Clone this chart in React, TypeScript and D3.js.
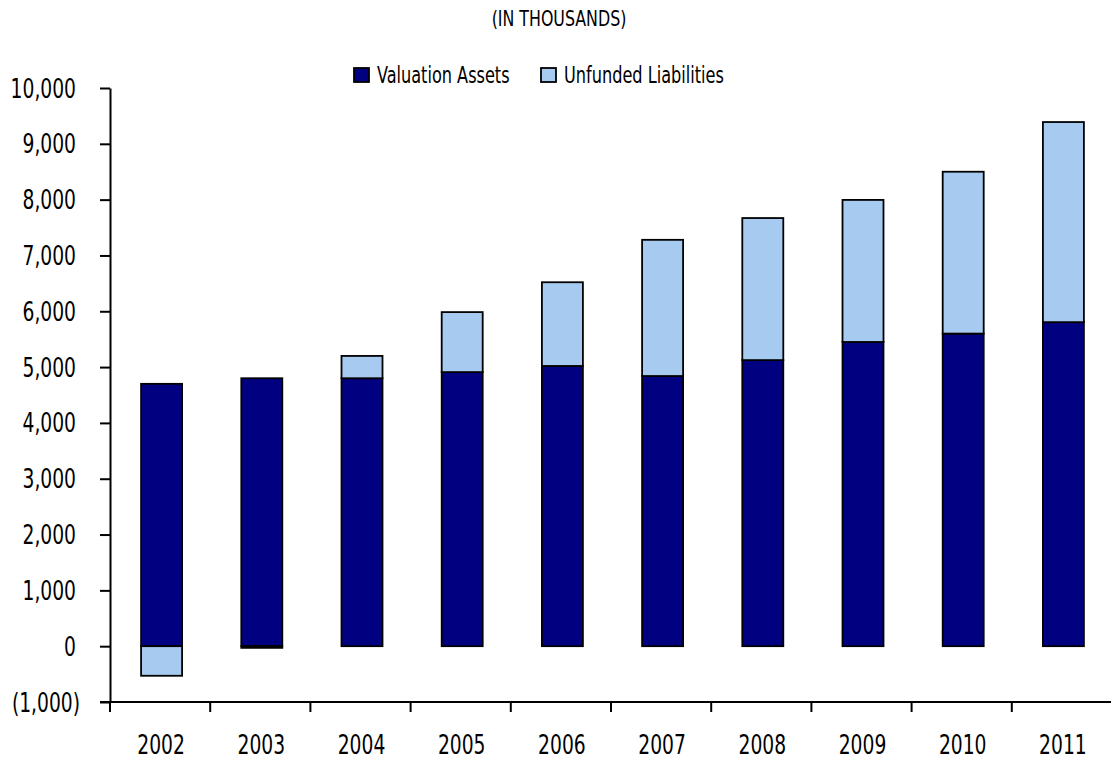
import React, { useEffect, useRef } from 'react';
import * as d3 from 'd3';

const years = ['2002', '2003', '2004', '2005', '2006', '2007', '2008', '2009', '2010', '2011'];
const valuationAssets = [4700, 4800, 4800, 4910, 5020, 4840, 5125, 5450, 5600, 5805];
const unfundedLiabilities = [-530, -30, 400, 1075, 1500, 2440, 2545, 2545, 2900, 3585];
const yTicks = [-1000, 0, 1000, 2000, 3000, 4000, 5000, 6000, 7000, 8000, 9000, 10000];
const seriesNames = ['Valuation Assets', 'Unfunded Liabilities'];
const seriesColors = ['#000080', '#A6CAF0'];

const FONT = '"DejaVu Sans Condensed", "DejaVu Sans", sans-serif';

// condensed-looking text: squeeze horizontally around the anchor point
function narrowText(g: any, x: number, y: number, txt: string, size: number, sx: number, anchor = 'start') {
  return g.append('text')
    .attr('transform', `translate(${x},${y}) scale(${sx},1)`)
    .attr('text-anchor', anchor)
    .attr('font-family', FONT)
    .attr('font-stretch', 'condensed')
    .attr('font-size', size)
    .attr('fill', '#000')
    .text(txt);
}

const App = () => {
  const svgRef = useRef<SVGSVGElement>(null);
  const width = 1111, height = 761;
  const margin = { top: 88, right: -1, bottom: 59, left: 110 };

  useEffect(() => {
    const svg = d3.select(svgRef.current);
    svg.selectAll('*').remove();

    const rows = years.map((y, i) => ({ year: y, assets: valuationAssets[i], unfunded: unfundedLiabilities[i] }));
    const stack = d3.stack<any>().keys(['assets', 'unfunded']).offset(d3.stackOffsetDiverging);
    const series = stack(rows);

    const x = d3.scaleBand().domain(years).range([margin.left, width - margin.right]).paddingInner(0).paddingOuter(0);
    const y = d3.scaleLinear().domain([-1000, 10000]).range([height - margin.bottom, margin.top]);
    const barW = 41;

    // title
    narrowText(svg, 559, 26, '(IN THOUSANDS)', 22, 0.8, 'middle');

    // bars
    svg.append('g').selectAll('g')
      .data(series)
      .join('g')
      .attr('fill', (d, i) => seriesColors[i])
      .selectAll('rect')
      .data(d => d)
      .join('rect')
      .attr('x', d => x(d.data.year)! + x.bandwidth() / 2 - barW / 2 + 1.5)
      .attr('width', barW)
      .attr('y', d => y(Math.max(d[0], d[1])))
      .attr('height', d => Math.abs(y(d[0]) - y(d[1])))
      .attr('stroke', '#000')
      .attr('stroke-width', 1.8);

    // y axis
    const yAxis = svg.append('g')
      .attr('transform', `translate(${margin.left},0)`)
      .call(d3.axisLeft(y).tickValues(yTicks).tickSize(10).tickSizeOuter(0).tickFormat(() => ''));
    yAxis.select('.domain').attr('stroke', '#000').attr('stroke-width', 2);
    yAxis.selectAll('.tick line').attr('stroke', '#000').attr('stroke-width', 2);
    const fmt = d3.format(',');
    yTicks.forEach(t => {
      narrowText(svg, t < 0 ? 80 : 76, y(t) + 9.5, t < 0 ? `(${fmt(-t)})` : fmt(t), 27, 0.77, 'end');
    });

    // x axis
    const xAxisY = y(-1000);
    const xg = svg.append('g');
    xg.append('line')
      .attr('x1', margin.left - 10).attr('x2', width)
      .attr('y1', xAxisY).attr('y2', xAxisY)
      .attr('stroke', '#000').attr('stroke-width', 2);
    xg.selectAll('line.tk')
      .data(years)
      .join('line')
      .attr('class', 'tk')
      .attr('x1', d => x(d)!).attr('x2', d => x(d)!)
      .attr('y1', xAxisY).attr('y2', xAxisY + 10)
      .attr('stroke', '#000').attr('stroke-width', 2);
    years.forEach(yr => {
      narrowText(xg, x(yr)! + x.bandwidth() / 2 + 1, 754, yr, 27, 0.77, 'middle');
    });

    // legend
    const legendX = [354, 541];
    const lg = svg.append('g');
    seriesNames.forEach((name, i) => {
      lg.append('rect')
        .attr('x', legendX[i]).attr('y', 68)
        .attr('width', 15).attr('height', 14)
        .attr('fill', seriesColors[i])
        .attr('stroke', '#000').attr('stroke-width', 1.8);
      narrowText(lg, legendX[i] + 23, 83, name, 23, 0.78);
    });
  }, []);

  return (
    <div style={{ position: 'absolute', left: 0, top: 0 }}>
      <svg ref={svgRef} width={width} height={height} style={{ display: 'block', background: '#fff' }} />
    </div>
  );
};

export default App;
